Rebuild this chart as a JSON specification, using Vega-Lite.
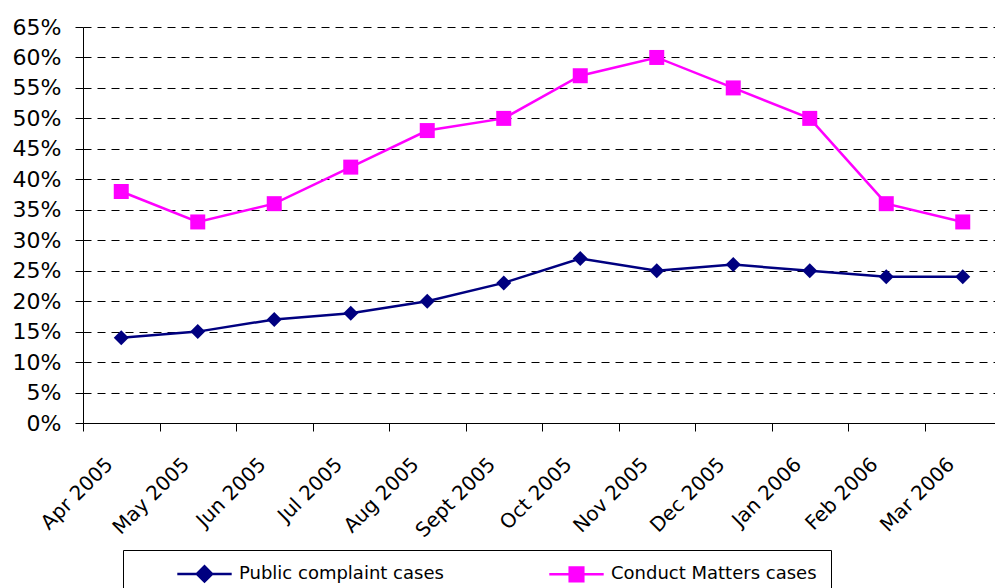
{
  "$schema": "https://vega.github.io/schema/vega-lite/v6.json",
  "autosize": "none",
  "width": 912,
  "height": 396,
  "padding": {"left": 83, "top": 27, "right": 0, "bottom": 165},
  "background": "white",
  "config": {"view": {"stroke": null}, "font": "DejaVu Sans"},
  "data": {"values": [
    {"month": "Apr 2005", "series": "Public complaint cases", "rate": 0.14},
    {"month": "May 2005", "series": "Public complaint cases", "rate": 0.15},
    {"month": "Jun 2005", "series": "Public complaint cases", "rate": 0.17},
    {"month": "Jul 2005", "series": "Public complaint cases", "rate": 0.18},
    {"month": "Aug 2005", "series": "Public complaint cases", "rate": 0.20},
    {"month": "Sept 2005", "series": "Public complaint cases", "rate": 0.23},
    {"month": "Oct 2005", "series": "Public complaint cases", "rate": 0.27},
    {"month": "Nov 2005", "series": "Public complaint cases", "rate": 0.25},
    {"month": "Dec 2005", "series": "Public complaint cases", "rate": 0.26},
    {"month": "Jan 2006", "series": "Public complaint cases", "rate": 0.25},
    {"month": "Feb 2006", "series": "Public complaint cases", "rate": 0.24},
    {"month": "Mar 2006", "series": "Public complaint cases", "rate": 0.24},
    {"month": "Apr 2005", "series": "Conduct Matters cases", "rate": 0.38},
    {"month": "May 2005", "series": "Conduct Matters cases", "rate": 0.33},
    {"month": "Jun 2005", "series": "Conduct Matters cases", "rate": 0.36},
    {"month": "Jul 2005", "series": "Conduct Matters cases", "rate": 0.42},
    {"month": "Aug 2005", "series": "Conduct Matters cases", "rate": 0.48},
    {"month": "Sept 2005", "series": "Conduct Matters cases", "rate": 0.50},
    {"month": "Oct 2005", "series": "Conduct Matters cases", "rate": 0.57},
    {"month": "Nov 2005", "series": "Conduct Matters cases", "rate": 0.60},
    {"month": "Dec 2005", "series": "Conduct Matters cases", "rate": 0.55},
    {"month": "Jan 2006", "series": "Conduct Matters cases", "rate": 0.50},
    {"month": "Feb 2006", "series": "Conduct Matters cases", "rate": 0.36},
    {"month": "Mar 2006", "series": "Conduct Matters cases", "rate": 0.33}
  ]},
  "encoding": {
    "x": {
      "field": "month", "type": "ordinal", "sort": null, "bandPosition": 0.5,
      "scale": {"type": "band", "paddingInner": 0, "paddingOuter": 0, "range": [0, 918]},
      "axis": {
        "title": null, "tickBand": "extent", "grid": false,
        "labelAngle": -45, "labelAlign": "right", "labelBaseline": "middle",
        "labelFontSize": 20, "labelColor": "black", "labelPadding": 30, "labelOffset": -12,
        "domainColor": "black", "domainWidth": 1, "tickColor": "black", "tickSize": 8, "tickWidth": 1,
        "labelOverlap": false
      }
    },
    "y": {
      "field": "rate", "type": "quantitative",
      "scale": {"domain": [0, 0.65], "nice": false, "zero": true},
      "axis": {
        "title": null, "values": [0, 0.05, 0.1, 0.15, 0.2, 0.25, 0.3, 0.35, 0.4, 0.45, 0.5, 0.55, 0.6, 0.65],
        "format": ".0%", "labelFontSize": 22, "labelColor": "black", "labelPadding": 14,
        "domainColor": "black", "domainWidth": 1, "tickColor": "black", "tickSize": 8, "tickWidth": 1,
        "grid": true, "gridColor": "black", "gridDash": [8, 6], "gridWidth": 1, "gridOpacity": 1,
        "labelOverlap": false
      }
    },
    "color": {
      "field": "series", "type": "nominal",
      "scale": {"domain": ["Public complaint cases", "Conduct Matters cases"], "range": ["#000080", "#FF00FF"]},
      "legend": {
        "title": " ", "titleOrient": "left", "titlePadding": 58, "titleFontSize": 10,
        "orient": "none", "direction": "horizontal",
        "legendX": 40, "legendY": 523,
        "strokeColor": "black", "fillColor": "white", "padding": 14,
        "labelFontSize": 18, "labelColor": "black", "labelOffset": 25, "labelLimit": 400,
        "columnPadding": 100, "symbolSize": 256, "symbolStrokeWidth": 2.5,
        "encoding": {
          "symbols": {
            "shape": {"condition": {"test": "datum.value == 'Public complaint cases'", "value": "M-3.4,0H3.4M-0.95,0L0,-0.95L0.95,0L0,0.95Z"}, "value": "M-3.4,0H3.4M-0.85,-0.85H0.85V0.85H-0.85Z"},
            "size": {"value": 256},
            "fill": {"condition": {"test": "datum.value == 'Public complaint cases'", "value": "#000080"}, "value": "#FF00FF"},
            "stroke": {"condition": {"test": "datum.value == 'Public complaint cases'", "value": "#000080"}, "value": "#FF00FF"},
            "strokeWidth": {"value": 2.5},
            "opacity": {"value": 1},
            "fillOpacity": {"value": 1},
            "strokeOpacity": {"value": 1}
          }
        }
      }
    }
  },
  "layer": [
    {"mark": {"type": "line", "strokeWidth": 2.5}},
    {
      "transform": [{"filter": "datum.series == 'Public complaint cases'"}],
      "mark": {"type": "point", "filled": true, "opacity": 1, "size": 225, "shape": "diamond"}
    },
    {
      "transform": [{"filter": "datum.series == 'Conduct Matters cases'"}],
      "mark": {"type": "point", "filled": true, "opacity": 1, "size": 225, "shape": "square"}
    }
  ]
}
